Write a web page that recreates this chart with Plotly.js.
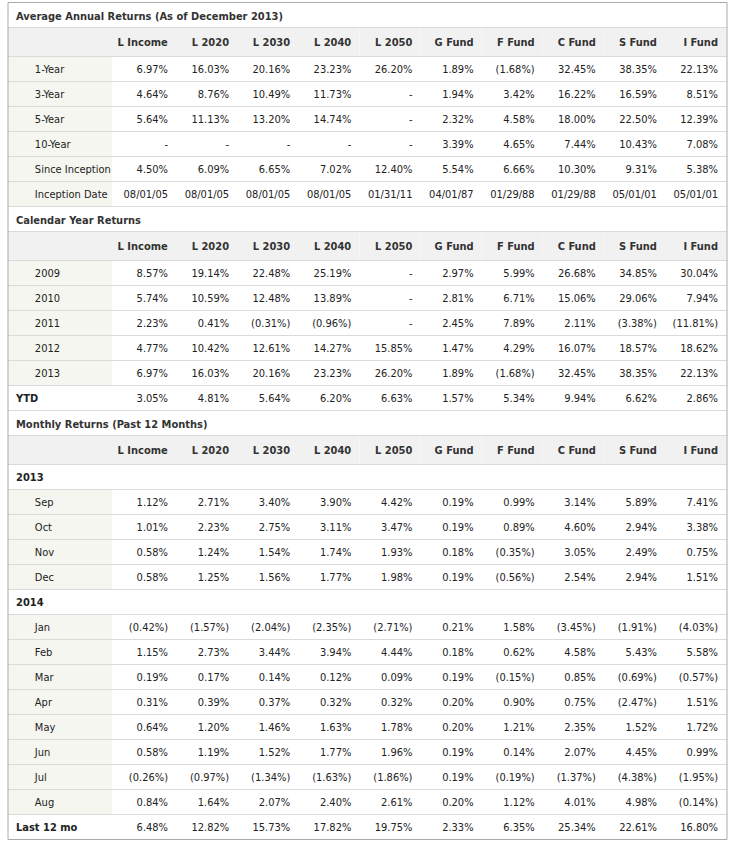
<!DOCTYPE html>
<html><head><meta charset="utf-8">
<script src="https://cdn.plot.ly/plotly-3.0.1.min.js"></script>
<style>html,body{margin:0;padding:0;background:#fff;} #chart{width:730px;height:845px;}</style>
</head><body><div id="chart"></div>
<script>
// ---------- DATA ----------
const funds = ['L Income','L 2020','L 2030','L 2040','L 2050','G Fund','F Fund','C Fund','S Fund','I Fund'];

const titleAnnual = 'Average Annual Returns (As of December 2013)';
const titleCalendar = 'Calendar Year Returns';
const titleMonthly = 'Monthly Returns (Past 12 Months)';

// Average annual returns (%), null = "-"
const annual1Year      = [6.97, 16.03, 20.16, 23.23, 26.20, 1.89, -1.68, 32.45, 38.35, 22.13];
const annual3Year      = [4.64, 8.76, 10.49, 11.73, null, 1.94, 3.42, 16.22, 16.59, 8.51];
const annual5Year      = [5.64, 11.13, 13.20, 14.74, null, 2.32, 4.58, 18.00, 22.50, 12.39];
const annual10Year     = [null, null, null, null, null, 3.39, 4.65, 7.44, 10.43, 7.08];
const sinceInception   = [4.50, 6.09, 6.65, 7.02, 12.40, 5.54, 6.66, 10.30, 9.31, 5.38];
const inceptionDates   = ['08/01/05','08/01/05','08/01/05','08/01/05','01/31/11','04/01/87','01/29/88','01/29/88','05/01/01','05/01/01'];

// Calendar year returns (%)
const cal2009 = [8.57, 19.14, 22.48, 25.19, null, 2.97, 5.99, 26.68, 34.85, 30.04];
const cal2010 = [5.74, 10.59, 12.48, 13.89, null, 2.81, 6.71, 15.06, 29.06, 7.94];
const cal2011 = [2.23, 0.41, -0.31, -0.96, null, 2.45, 7.89, 2.11, -3.38, -11.81];
const cal2012 = [4.77, 10.42, 12.61, 14.27, 15.85, 1.47, 4.29, 16.07, 18.57, 18.62];
const cal2013 = [6.97, 16.03, 20.16, 23.23, 26.20, 1.89, -1.68, 32.45, 38.35, 22.13];
const calYTD  = [3.05, 4.81, 5.64, 6.20, 6.63, 1.57, 5.34, 9.94, 6.62, 2.86];

// Monthly returns (%)
const mSep = [1.12, 2.71, 3.40, 3.90, 4.42, 0.19, 0.99, 3.14, 5.89, 7.41];
const mOct = [1.01, 2.23, 2.75, 3.11, 3.47, 0.19, 0.89, 4.60, 2.94, 3.38];
const mNov = [0.58, 1.24, 1.54, 1.74, 1.93, 0.18, -0.35, 3.05, 2.49, 0.75];
const mDec = [0.58, 1.25, 1.56, 1.77, 1.98, 0.19, -0.56, 2.54, 2.94, 1.51];
const mJan = [-0.42, -1.57, -2.04, -2.35, -2.71, 0.21, 1.58, -3.45, -1.91, -4.03];
const mFeb = [1.15, 2.73, 3.44, 3.94, 4.44, 0.18, 0.62, 4.58, 5.43, 5.58];
const mMar = [0.19, 0.17, 0.14, 0.12, 0.09, 0.19, -0.15, 0.85, -0.69, -0.57];
const mApr = [0.31, 0.39, 0.37, 0.32, 0.32, 0.20, 0.90, 0.75, -2.47, 1.51];
const mMay = [0.64, 1.20, 1.46, 1.63, 1.78, 0.20, 1.21, 2.35, 1.52, 1.72];
const mJun = [0.58, 1.19, 1.52, 1.77, 1.96, 0.19, 0.14, 2.07, 4.45, 0.99];
const mJul = [-0.26, -0.97, -1.34, -1.63, -1.86, 0.19, -0.19, -1.37, -4.38, -1.95];
const mAug = [0.84, 1.64, 2.07, 2.40, 2.61, 0.20, 1.12, 4.01, 4.98, -0.14];
const mLast12 = [6.48, 12.82, 15.73, 17.82, 19.75, 2.33, 6.35, 25.34, 22.61, 16.80];

// ---------- STYLE ----------
const W = 730, H = 845;
const FONT = '"DejaVu Sans Condensed", "DejaVu Sans", sans-serif';
const TXT = '#222222', HDR_TXT = '#333333';
const BEIGE = '#f6f6f0', HDR_BG = '#f1f1f1', WHITE = '#ffffff';
const LINE = '#dadada', BORDER = '#aaaaaa';
const X0 = 8, X1 = 726;
const ROW_H = 25, HDR_H = 29, TITLE_H = 25;
const colW = [104, 64, 61.1, 61.1, 61.1, 61.1, 61.1, 61.1, 61.1, 61.1, 61.1];
const INDENT = '\u00A0\u00A0\u00A0\u00A0\u00A0\u00A0';
const BLANK = '\u00A0';
const nb = s => s.replace(/ /g, '\u00A0');

function fmt(v) {
  if (v === null || v === undefined) return '-';
  if (typeof v === 'string') return v;
  return v < 0 ? '(' + Math.abs(v).toFixed(2) + '%)' : v.toFixed(2) + '%';
}

const sections = [
  { title: titleAnnual, rows: [
    {label: '1-Year', vals: annual1Year, kind: 'data'},
    {label: '3-Year', vals: annual3Year, kind: 'data'},
    {label: '5-Year', vals: annual5Year, kind: 'data'},
    {label: '10-Year', vals: annual10Year, kind: 'data'},
    {label: 'Since Inception', vals: sinceInception, kind: 'data'},
    {label: 'Inception Date', vals: inceptionDates, kind: 'data'}
  ]},
  { title: titleCalendar, rows: [
    {label: '2009', vals: cal2009, kind: 'data'},
    {label: '2010', vals: cal2010, kind: 'data'},
    {label: '2011', vals: cal2011, kind: 'data'},
    {label: '2012', vals: cal2012, kind: 'data'},
    {label: '2013', vals: cal2013, kind: 'data'},
    {label: 'YTD', vals: calYTD, kind: 'bold'}
  ]},
  { title: titleMonthly, rows: [
    {label: '2013', vals: null, kind: 'group'},
    {label: 'Sep', vals: mSep, kind: 'data'},
    {label: 'Oct', vals: mOct, kind: 'data'},
    {label: 'Nov', vals: mNov, kind: 'data'},
    {label: 'Dec', vals: mDec, kind: 'data'},
    {label: '2014', vals: null, kind: 'group'},
    {label: 'Jan', vals: mJan, kind: 'data'},
    {label: 'Feb', vals: mFeb, kind: 'data'},
    {label: 'Mar', vals: mMar, kind: 'data'},
    {label: 'Apr', vals: mApr, kind: 'data'},
    {label: 'May', vals: mMay, kind: 'data'},
    {label: 'Jun', vals: mJun, kind: 'data'},
    {label: 'Jul', vals: mJul, kind: 'data'},
    {label: 'Aug', vals: mAug, kind: 'data'},
    {label: 'Last 12 mo', vals: mLast12, kind: 'bold'}
  ]}
];

const py = p => 1 - p / H;
const dx = [X0 / W, X1 / W];
const traces = [];
const shapes = [];
const annotations = [];
const hline = (y, color) => shapes.push({type: 'line', xref: 'paper', yref: 'paper', layer: 'above',
  x0: X0 / W, x1: (X1 + 1) / W, y0: py(y), y1: py(y), line: {color: color, width: 1}});

let yCur = 2.5;
sections.forEach(sec => {
  // section title row
  annotations.push({xref: 'paper', yref: 'paper', x: (X0 + 6) / W, y: py(yCur + TITLE_H / 2 + 1),
    xanchor: 'left', yanchor: 'middle', showarrow: false, text: '<b>' + sec.title + '</b>',
    font: {family: FONT, size: 11, color: HDR_TXT}});
  hline(yCur + TITLE_H, LINE);
  yCur += TITLE_H;
  // body
  const nCols = funds.length + 1;
  const cols = [], fills = [], weights = [], aligns = [];
  for (let c = 0; c < nCols; c++) { cols.push([]); fills.push([]); weights.push([]); aligns.push(c === 0 ? 'left' : 'right'); }
  sec.rows.forEach(r => {
    const isData = r.kind === 'data';
    cols[0].push(isData ? INDENT + nb(r.label) : nb(r.label));
    fills[0].push(isData ? BEIGE : WHITE);
    weights[0].push(isData ? 'normal' : 'bold');
    for (let c = 1; c < nCols; c++) {
      cols[c].push(r.vals ? fmt(r.vals[c - 1]) : BLANK);
      fills[c].push(WHITE);
      weights[c].push('normal');
    }
  });
  const h = HDR_H + ROW_H * sec.rows.length;
  traces.push({
    type: 'table', domain: {x: dx, y: [py(yCur + h + 1), py(yCur)]},
    columnwidth: colW,
    header: {values: [BLANK].concat(funds.map(f => '<b>' + nb(f) + '</b>')), height: HDR_H, align: aligns,
      fill: {color: HDR_BG}, line: {width: 0}, font: {family: FONT, size: 11, color: HDR_TXT}},
    cells: {values: cols, height: ROW_H, align: aligns, fill: {color: fills}, line: {width: 0},
      font: {family: FONT, size: 11, color: TXT, weight: weights}}
  });
  hline(yCur + HDR_H, LINE);
  for (let i = 1; i <= sec.rows.length; i++) hline(yCur + HDR_H + ROW_H * i, LINE);
  yCur += h;
});

// outer border
shapes.push({type: 'rect', xref: 'paper', yref: 'paper', layer: 'above',
  x0: X0 / W, x1: (X1 + 1) / W, y0: py(yCur), y1: py(2.5), line: {color: BORDER, width: 1}});

Plotly.newPlot('chart', traces, {
  width: W, height: H, margin: {l: 0, r: 0, t: 0, b: 0},
  paper_bgcolor: WHITE, plot_bgcolor: WHITE, shapes: shapes, annotations: annotations, showlegend: false
}, {displayModeBar: false});
</script></body></html>
